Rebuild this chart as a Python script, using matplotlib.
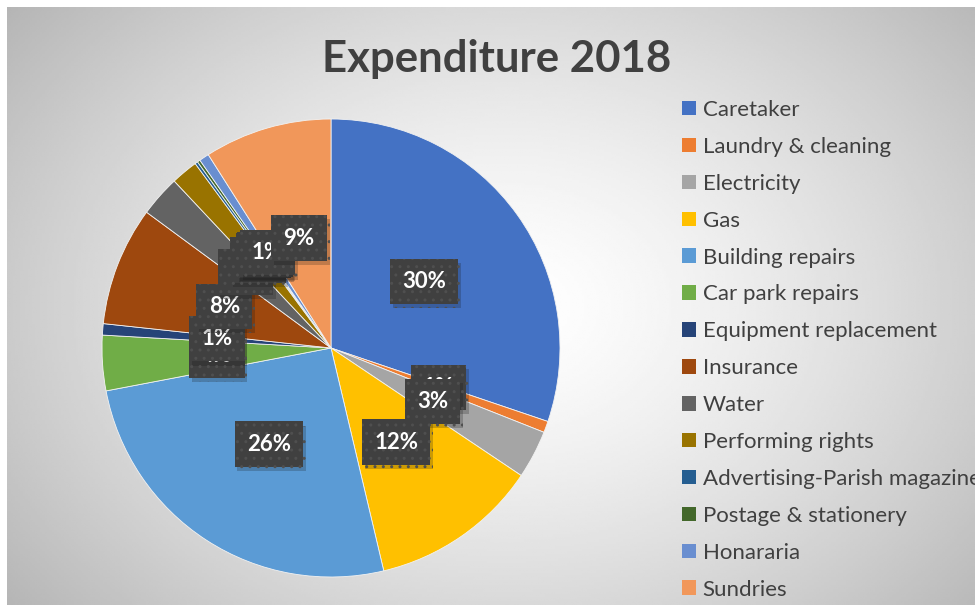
import numpy as np
import matplotlib
matplotlib.use("Agg")
import matplotlib.pyplot as plt
import matplotlib.patheffects as pe

# 데이터 (퍼센트, 그림에서 읽은 값)
categories = ["Caretaker", "Laundry & cleaning", "Electricity", "Gas",
              "Building repairs", "Car park repairs", "Equipment replacement",
              "Insurance", "Water", "Performing rights",
              "Advertising-Parish magazine", "Postage & stationery",
              "Honararia", "Sundries"]
values = [30.2, 0.8, 3.4, 11.9, 25.7, 3.9, 0.8, 8.4, 2.9, 1.9, 0.2, 0.2, 0.7, 9.0]
colors = ["#4472C4", "#ED7D31", "#A5A5A5", "#FFC000", "#5B9BD5", "#70AD47",
          "#264478", "#9E480E", "#636363", "#997300", "#255E91", "#43682B",
          "#698ED0", "#F1975A"]

W, H = 975, 606
plt.rcParams['font.family'] = ['Lato', 'DejaVu Sans']
fig = plt.figure(figsize=(W / 100, H / 100), dpi=100, facecolor="white")

# 배경 방사형 그라데이션
bg = fig.add_axes([7 / W, 1 / H, (W - 7) / W, (H - 8) / H])
gx, gy = np.meshgrid(np.linspace(0, W - 7, 400), np.linspace(0, H - 8, 250))
cx, cy = 500, 300
r = np.sqrt(((gx - cx) / 560) ** 2 + ((gy - cy) / 420) ** 2)
shade = 1.0 - 0.24 * np.clip(r, 0, 1.2) ** 1.4
bg.imshow(shade, cmap="gray", vmin=0, vmax=1, aspect="auto", interpolation="bilinear")
bg.set_axis_off()

# 파이 차트
cxp, cyp, rad = 331, 348, 229
ax = fig.add_axes([(cxp - rad) / W, (H - cyp - rad) / H, 2 * rad / W, 2 * rad / H])
wedges, texts, autotexts = ax.pie(
    values, colors=colors, startangle=90, counterclock=False,
    autopct='%1.0f%%', pctdistance=0.5,
    wedgeprops=dict(edgecolor="#f2f2f2", linewidth=0.6),
    textprops=dict(color="white", fontsize=16, fontweight="bold"))
ax.set_xlim(-1, 1)
ax.set_ylim(-1, 1)
ax.set_axis_off()

for t in autotexts:
    t.set_bbox(dict(boxstyle="square,pad=0.55", facecolor="#404040",
                    edgecolor="#4f4f4f", linewidth=0, hatch=".."))
    t.get_bbox_patch().set_path_effects(
        [pe.SimplePatchShadow(offset=(2, -3), alpha=0.22), pe.Normal()])

# 제목
fig.text(497 / W, 1 - 59 / H, "Expenditure 2018", ha="center", va="center",
         fontsize=31.5, fontweight="bold", color="#404040")

# 범례
leg = fig.legend(wedges, categories, loc="upper left",
                 bbox_to_anchor=(682 / W, 1 - 100 / H), frameon=False,
                 fontsize=16, handlelength=0.63, handleheight=0.63,
                 handletextpad=0.3, labelspacing=0.76, borderpad=0,
                 borderaxespad=0)
for txt in leg.get_texts():
    txt.set_color("#404040")
for h in leg.legend_handles:
    h.set_linewidth(0)

fig.savefig("out.png", dpi=100, facecolor="white")
